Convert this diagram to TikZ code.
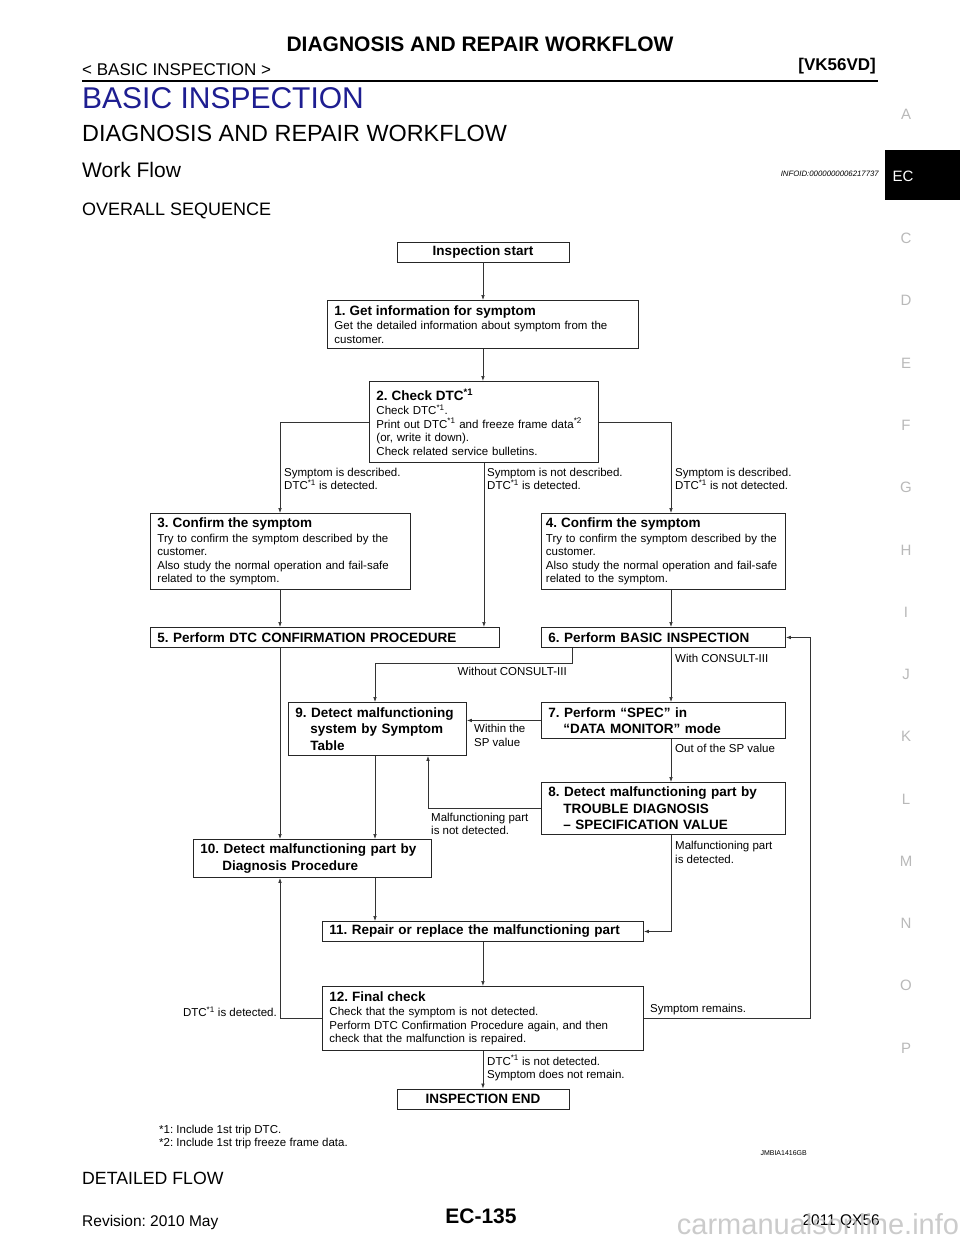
\documentclass[tikz,border=0pt]{standalone}
\usepackage{fontspec}
\setmainfont{Liberation Sans}
\usetikzlibrary{arrows.meta}
\definecolor{navy}{RGB}{30,30,145}
\definecolor{tabgray}{RGB}{185,185,185}
\frenchspacing
\newcommand{\boxtitle}[1]{{\bfseries\fontsize{13.5}{15}\selectfont #1}}
\newcommand{\dtc}{DTC\textsuperscript{*1}}
\tikzset{
    box/.style={draw=black!85, line width=0.9pt, anchor=north west, inner xsep=7pt, inner ysep=1pt,
                align=left, font=\fontsize{11.5}{13.5}\selectfont},
    bbox/.style={box, font=\bfseries\fontsize{13.5}{16.5}\selectfont},
    endbox/.style={draw=black!85, line width=0.9pt, minimum width=172pt, minimum height=20pt,
                   inner sep=0pt, font=\bfseries\fontsize{13.5}{16}\selectfont},
    flow/.style={draw=black!80, line width=0.7pt, -{Latex[length=5pt,width=3.6pt]}},
    lbl/.style={anchor=west, align=left, inner sep=0pt, font=\fontsize{11.5}{13.5}\selectfont},
}

\begin{document}
\begin{tikzpicture}[x=1pt,y=-1pt]
    \useasboundingbox (0,0) rectangle (960,1242);
    \fill[white] (0,0) rectangle (960,1242);

    % page header
    \node[font=\bfseries\fontsize{21}{24}\selectfont] (head) at (480,44) {DIAGNOSIS AND REPAIR WORKFLOW};
    \node[anchor=west, inner sep=0pt, font=\fontsize{17}{20}\selectfont] (sect) at (82,70) {< BASIC INSPECTION >};
    \node[anchor=east, inner sep=0pt, font=\bfseries\fontsize{17}{20}\selectfont] (model) at (876,66) {[VK56VD]};
    \draw[line width=2.2pt] (82,81) -- (878,81);
    \node[anchor=west, inner sep=0pt, text=navy, font=\fontsize{30}{34}\selectfont] (chap) at (82,98) {BASIC INSPECTION};
    \node[anchor=west, inner sep=0pt, font=\fontsize{23.4}{27}\selectfont] (topic) at (82,133) {DIAGNOSIS AND REPAIR WORKFLOW};
    \node[anchor=west, inner sep=0pt, font=\fontsize{21}{24}\selectfont] (work) at (82,170) {Work Flow};
    \node[anchor=east, inner sep=0pt, font=\itshape\fontsize{7.8}{9}\selectfont] (infoid) at (879,174) {INFOID:0000000006217737};
    \node[anchor=west, inner sep=0pt, font=\fontsize{18}{21}\selectfont] (overall) at (82,211) {OVERALL SEQUENCE};

    % side tabs
    \fill[black] (885,150) rectangle (960,200);
    \node[text=white, font=\fontsize{15}{18}\selectfont] (tabEC) at (903,176) {EC};
    \foreach \l/\k in {A/0,C/2,D/3,E/4,F/5,G/6,H/7,I/8,J/9,K/10,L/11,M/12,N/13,O/14,P/15}
    {
        \node[text=tabgray, font=\fontsize{15}{18}\selectfont] (tab\l) at (906,114+62.27*\k) {\l};
    }

    % flow chart
    \coordinate (lx) at (280,0);
    \coordinate (mx) at (375,0);
    \coordinate (nx) at (428,0);
    \coordinate (cx) at (572,663);
    \coordinate (rx) at (671,0);
    \coordinate (ox) at (810,0);

    \node[endbox] (start) at (483,252) {Inspection start};
    \node[box, text width=297pt, minimum height=48pt] (b1) at (327,300)
        {\boxtitle{1. Get information for symptom}\\[1pt]
         Get the detailed information about symptom from the\\customer.};
    \node[box, text width=215pt, minimum height=81pt] (b2) at (369,381)
        {\boxtitle{2. Check \dtc}\\[1pt]
         Check \dtc.\\Print out \dtc{} and freeze frame data\textsuperscript{*2}\\(or, write it down).\\Check related service bulletins.};
    \node[box, text width=246pt, minimum height=76pt] (b3) at (150,513)
        {\boxtitle{3. Confirm the symptom}\\[1pt]
         Try to confirm the symptom described by the\\customer.\\Also study the normal operation and fail-safe\\related to the symptom.};
    \node[box, text width=235pt, inner xsep=4.5pt, minimum height=76pt] (b4) at (541,513)
        {\boxtitle{4. Confirm the symptom}\\[1pt]
         Try to confirm the symptom described by the\\customer.\\Also study the normal operation and fail-safe\\related to the symptom.};
    \node[bbox, text width=335pt, minimum height=20pt] (b5) at (150,627) {5. Perform DTC CONFIRMATION PROCEDURE};
    \node[bbox, text width=230pt, minimum height=20pt] (b6) at (541,627) {6. Perform BASIC INSPECTION};
    \node[bbox, text width=230pt, minimum height=36pt] (b7) at (541,702)
        {7. Perform “SPEC” in\\\hspace*{15pt}“DATA MONITOR” mode};
    \node[bbox, text width=230pt, minimum height=52pt] (b8) at (541,782)
        {8. Detect malfunctioning part by\\\hspace*{15pt}TROUBLE DIAGNOSIS\\\hspace*{15pt}– SPECIFICATION VALUE};
    \node[bbox, text width=164pt, minimum height=53pt] (b9) at (288,702)
        {9. Detect malfunctioning\\\hspace*{15pt}system by Symptom\\\hspace*{15pt}Table};
    \node[bbox, text width=224pt, minimum height=38pt] (b10) at (193,839)
        {10. Detect malfunctioning part by\\\hspace*{22pt}Diagnosis Procedure};
    \node[bbox, text width=307pt, minimum height=20pt] (b11) at (322,921) {11. Repair or replace the malfunctioning part};
    \node[box, text width=307pt, minimum height=64pt] (b12) at (322,986)
        {\boxtitle{12. Final check}\\[1pt]
         Check that the symptom is not detected.\\Perform DTC Confirmation Procedure again, and then\\check that the malfunction is repaired.};
    \node[endbox] (end) at (483,1099) {INSPECTION END};

    \draw[flow] (start.south) -- (start.south |- b1.north);
    \draw[flow] (b1.south) -- (b1.south |- b2.north);
    \draw[flow] (b2.west) -| (b3.north -| lx);
    \draw[flow] (b2.east) -| (b4.north -| rx);
    \draw[flow] (b2.south) -- (b2.south |- b5.north);
    \draw[flow] (b3.south -| lx) -- (b5.north -| lx);
    \draw[flow] (b4.south -| rx) -- (b6.north -| rx);
    \draw[flow] (b6.south -| cx) -- (cx) -| (b9.north -| mx);
    \draw[flow] (b6.south -| rx) -- (b7.north -| rx);
    \draw[flow] (b7.west) -- (b7.west -| b9.east);
    \draw[flow] (b7.south -| rx) -- (b8.north -| rx);
    \draw[flow] (b8.west) -| (b9.south -| nx);
    \draw[flow] (b8.south -| rx) |- (b11.east);
    \draw[flow] (b5.south -| lx) -- (b10.north -| lx);
    \draw[flow] (b9.south -| mx) -- (b10.north -| mx);
    \draw[flow] (b10.south -| mx) -- (b11.north -| mx);
    \draw[flow] (b11.south) -- (b11.south |- b12.north);
    \draw[flow] (b12.west) -| (b10.south -| lx);
    \draw[flow] (b12.east) -| (ox |- b6.east) -- (b6.east);
    \draw[flow] (b12.south) -- (b12.south |- end.north);

    \node[lbl] (l3) at (284,479) {Symptom is described.\\\dtc{} is detected.};
    \node[lbl] (l5) at (487,479) {Symptom is not described.\\\dtc{} is detected.};
    \node[lbl] (l4) at (675,479) {Symptom is described.\\\dtc{} is not detected.};
    \node[lbl, anchor=east] (l9) at (567,671) {Without CONSULT-III};
    \node[lbl] (l7) at (675,658) {With CONSULT-III};
    \node[lbl] (l79) at (474,735.5) {Within the\\SP value};
    \node[lbl] (l78) at (675,748) {Out of the SP value};
    \node[lbl] (l89) at (431,824) {Malfunctioning part\\is not detected.};
    \node[lbl] (l811) at (675,852.5) {Malfunctioning part\\is detected.};
    \node[lbl, anchor=east] (l1210) at (277,1012) {\dtc{} is detected.};
    \node[lbl] (l126) at (650,1010) {Symptom remains.};
    \node[lbl] (l12e) at (487,1068) {\dtc{} is not detected.\\Symptom does not remain.};
    \node[lbl] (notes) at (159,1137) {*1: Include 1st trip DTC.\\*2: Include 1st trip freeze frame data.};
    \node[anchor=east, inner sep=0pt, font=\fontsize{7}{8}\selectfont] (figid) at (807,1153) {JMBIA1416GB};

    % page footer
    \node[anchor=west, inner sep=0pt, font=\fontsize{17.7}{21}\selectfont] (detail) at (82,1178) {DETAILED FLOW};
    \node[anchor=west, inner sep=0pt, font=\fontsize{15.5}{18}\selectfont] (rev) at (82,1222) {Revision: 2010 May};
    \node[font=\bfseries\fontsize{21}{24}\selectfont] (page) at (481,1216) {EC-135};
    \node[anchor=east, inner sep=0pt, font=\fontsize{15.5}{18}\selectfont] (year) at (880,1222) {2011 QX56};
    \node[text=black!25, opacity=0.8, font=\fontsize{29}{32}\selectfont] (mark) at (818,1224) {carmanualsonline.info};
\end{tikzpicture}
\end{document}
